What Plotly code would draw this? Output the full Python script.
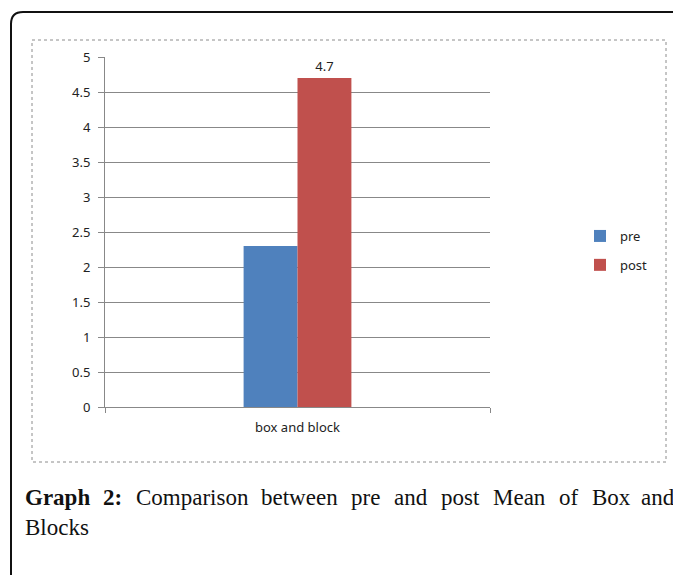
import plotly.graph_objects as go

categories = ["box and block"]
pre_values = [2.3]
post_values = [4.7]
series_names = ["pre", "post"]
post_labels = ["4.7"]
y_ticks = [0, 0.5, 1, 1.5, 2, 2.5, 3, 3.5, 4, 4.5, 5]
y_ticklabels = ["0", "0.5", "1", "1.5", "2", "2.5", "3", "3.5", "4", "4.5", "5"]

caption_line1 = [("Graph", True), ("2:", True), ("Comparison", False), ("between", False),
                 ("pre", False), ("and", False), ("post", False), ("Mean", False),
                 ("of", False), ("Box", False), ("and", False)]
caption_line1_x = [23, 101, 134, 259, 349, 392, 439, 491, 557, 590, 639]
caption_line2 = "Blocks"

# page body has an 8px margin, so figure coordinates are shifted
OFF = 8
W, H = 681, 575
L, R, T, B = 105 - OFF, 490 - OFF, 57 - OFF, 407 - OFF


def px(x):
    return (x - OFF - L) / (R - L)


def py(y):
    return (B - (y - OFF)) / (B - T)


fig = go.Figure()
fig.add_trace(go.Bar(x=categories, y=pre_values, name=series_names[0],
                     marker=dict(color="#4F81BD", line=dict(width=0)),
                     legendgroup="a"))
fig.add_trace(go.Bar(x=categories, y=post_values, name=series_names[1],
                     marker=dict(color="#C0504D", line=dict(width=0)),
                     text=post_labels, textposition="outside",
                     textfont=dict(family="Noto Sans", size=13, color="#222222"),
                     cliponaxis=False, legendgroup="b"))

shapes = [
    dict(type="rect", xref="paper", yref="paper",
         x0=px(32), x1=px(666), y0=py(40), y1=py(462),
         line=dict(color="#8c8c8c", width=1, dash="dot"), layer="below"),
    dict(type="path", xref="paper", yref="paper",
         path=f"M {px(11)},{py(600)} L {px(11)},{py(24)} Q {px(11)},{py(12)} {px(23)},{py(12)} L {px(700)},{py(12)}",
         line=dict(color="#111111", width=2)),
]

annotations = []
for (word, bold), xpos in zip(caption_line1, caption_line1_x):
    annotations.append(dict(
        text=f"<b>{word}</b>" if bold else word,
        xref="paper", yref="paper", x=px(xpos), y=py(497),
        xanchor="left", yanchor="middle", showarrow=False,
        font=dict(family="Liberation Serif", size=23, color="#111111")))
annotations.append(dict(
    text=caption_line2, xref="paper", yref="paper", x=px(23), y=py(527),
    xanchor="left", yanchor="middle", showarrow=False,
    font=dict(family="Liberation Serif", size=23, color="#111111")))

fig.update_layout(
    width=W, height=H,
    margin=dict(l=L, r=W - R, t=T, b=H - B, pad=0),
    paper_bgcolor="white", plot_bgcolor="white",
    barmode="group", bargap=0.72, bargroupgap=0,
    showlegend=True,
    legend=dict(x=px(580), y=py(221), xanchor="left", yanchor="top",
                font=dict(family="Noto Sans", size=13, color="#222222"),
                traceorder="grouped", tracegroupgap=9,
                bgcolor="rgba(0,0,0,0)", itemwidth=30),
    xaxis=dict(showline=True, linecolor="#888888", linewidth=1,
               ticks="outside", tickson="boundaries", ticklen=5, tickcolor="#888888",
               ticklabelstandoff=8,
               tickfont=dict(family="Noto Sans", size=13, color="#222222"),
               showgrid=False, fixedrange=True),
    yaxis=dict(range=[0, 5], tickvals=y_ticks, ticktext=y_ticklabels,
               showline=True, linecolor="#888888", linewidth=1,
               ticks="outside", ticklen=6, tickcolor="#888888",
               ticklabelstandoff=5,
               showgrid=True, gridcolor="#888888", gridwidth=1,
               zeroline=False,
               tickfont=dict(family="Noto Sans", size=13, color="#222222")),
    shapes=shapes,
    annotations=annotations,
)

fig.write_html("out.html")
